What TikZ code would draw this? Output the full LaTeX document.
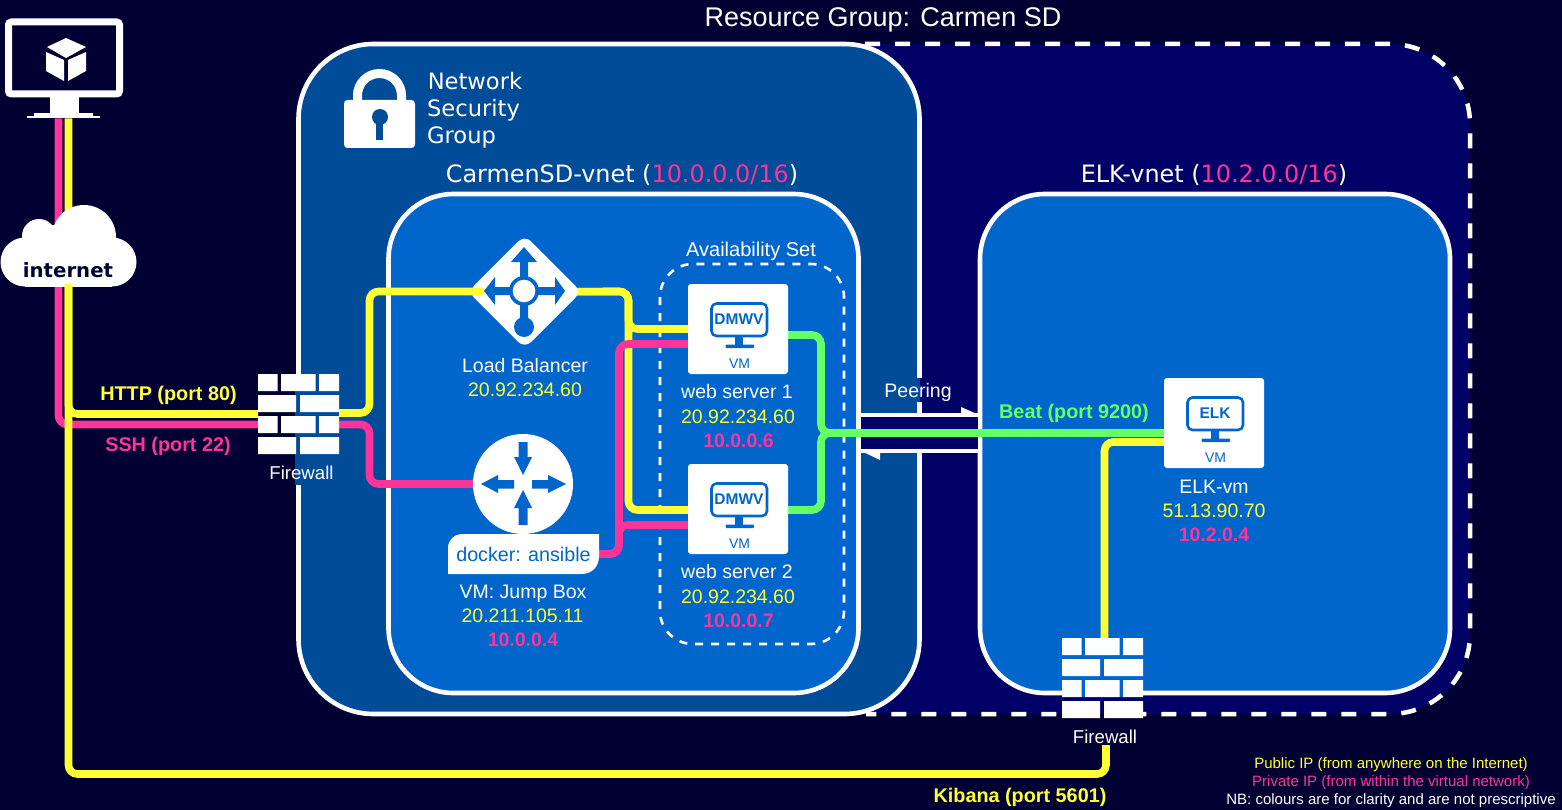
\documentclass[tikz,border=0pt]{standalone}
\usepackage{fontspec}
\setmainfont{Liberation Sans}
\newfontfamily\djv{DejaVu Sans}
\definecolor{bgc}{HTML}{000033}
\definecolor{rgc}{HTML}{000066}
\definecolor{nsgc}{HTML}{004C99}
\definecolor{vnc}{HTML}{0066CC}
\definecolor{ipy}{HTML}{FFFF33}
\definecolor{ipp}{HTML}{FF3399}
\definecolor{ipg}{HTML}{66FF66}
\newcommand\fs[1]{\fontsize{#1}{#1}\selectfont}
\tikzset{
  x=1pt,y=-1pt,
  txt/.style={anchor=base,inner sep=0pt,outer sep=0pt,text=white,font=\fs{19.5}},
  pub/.style={txt,text=ipy},
  priv/.style={txt,text=ipp,font=\fs{19.5}\bfseries},
  blab/.style={txt,font=\fs{19.8}\bfseries},
  legend/.style={txt,font=\fs{15}},
  ttl/.style={txt,font=\fs{22.6}\djv},
  ttlb/.style={txt,font=\fs{23.9}\djv},
  region/.style={draw=white,line width=4.6pt,outer sep=0pt,inner sep=0pt,rounded corners=#1},
  ghost/.style={inner sep=0pt,outer sep=0pt},
  vmbox/.style={fill=white,rounded corners=3pt,minimum width=100pt,minimum height=90pt,inner sep=0pt,outer sep=0pt},
  wire/.style={line width=7.6pt,rounded corners=9pt},
  yw/.style={wire,draw=ipy},
  pw/.style={wire,draw=ipp},
  gw/.style={wire,draw=ipg},
}
% firewall bricks; #1,#2 = top left corner
\newcommand\bricks[2]{%
  \begin{scope}[shift={(#1,#2)}]
    \fill[white] (0,0) rectangle (19.5,17) (23,0) rectangle (57.5,17) (61,0) rectangle (81,17);
    \fill[white] (0,21) rectangle (38,38) (42,21) rectangle (81,38);
    \fill[white] (0,42) rectangle (19.5,59) (23,42) rectangle (57.5,59) (61,42) rectangle (81,59);
    \fill[white] (0,63) rectangle (38,80) (42,63) rectangle (81,80);
  \end{scope}}
% VM icon; #1,#2 = top left of box, #3 = node prefix, #4 = screen text
\newcommand\vmicon[4]{%
  \begin{scope}[shift={(#1,#2)}]
    \draw[vnc,line width=2.6pt,rounded corners=5pt] (23.5,19.5) rectangle (79,52);
    \fill[vnc] (47,53) rectangle (55,62);
    \fill[vnc,rounded corners=1pt] (37.5,60.5) rectangle (66,64);
    \node[txt,text=vnc,font=\fs{15.5}\bfseries] (#3s) at (51,40) {#4};
    \node[txt,text=vnc,font=\fs{14}] (#3v) at (51.5,84) {VM};
  \end{scope}}
\begin{document}
\begin{tikzpicture}[line join=miter]
\useasboundingbox (0,0) rectangle (1562,810);
\fill[bgc] (0,0) rectangle (1562,810);
% resource group
\fill[rgc,rounded corners=80pt] (700,44) -- (1470,44) -- (1470,714) -- (700,714) -- cycle;
\draw[white,line width=4.5pt,dash pattern=on 15pt off 15pt,rounded corners=80pt] (865,44) -- (1470,44) -- (1470,714) -- (866,714);
\node[txt,font=\fs{27}] (rgt) at (883,27) {Resource Group: Carmen SD};
% regions
\node[region=75pt,fill=nsgc,minimum width=621pt,minimum height=670pt] (nsg) at (609,379) {};
\node[region=65pt,fill=vnc,minimum width=470pt,minimum height=499pt] (vnA) at (623.5,443.5) {};
\node[region=65pt,fill=vnc,minimum width=470pt,minimum height=499pt] (vnB) at (1215,443.5) {};
% lock
\fill[white,rounded corners=3.5pt] (344,100) rectangle (415,148);
\draw[white,line width=9pt] (357.5,102) -- (357.5,95.5) arc[start angle=180,end angle=0,radius=22pt] -- (401.5,102);
\fill[nsgc] (380,117) circle (8pt);
\fill[nsgc] (376.2,117) rectangle (383.2,140.5);
\node[ttl] (nsgA) at (475,90) {Network};
\node[ttl] (nsgB) at (473.5,117) {Security};
\node[ttl] (nsgC) at (461.5,144) {Group};
\node[ttlb] (vnAt) at (622,183) {CarmenSD-vnet (\textcolor{ipp}{10.0.0.0/16})};
\node[ttlb] (vnBt) at (1214,183) {ELK-vnet (\textcolor{ipp}{10.2.0.0/16})};
% availability set
\draw[white,line width=2.6pt,dash pattern=on 8pt off 8pt,rounded corners=33pt] (660,264) rectangle (844,644);
\node[txt,font=\fs{20}] (avt) at (751,256) {Availability Set};
% peering
\fill[rgc] (861,417) rectangle (978,449);
\fill[nsgc] (913,378) rectangle (919.5,402);
\fill[rgc] (919.5,378) rectangle (923,402);
\draw[white,line width=4pt] (vnA.east |- 0,415) -- (vnB.west |- 0,415);
\draw[white,line width=4pt] (vnB.west |- 0,450.5) -- (vnA.east |- 0,450.5);
\fill[white] (961,407) -- (977,414) -- (961,415) -- cycle;
\fill[white] (861,451) -- (880,460) -- (880,451) -- cycle;
\node[txt] (peer) at (918,397) {Peering};
% backing patches behind the firewalls and their labels
\fill[bgc] (290,374) rectangle (295,485);
\fill[nsgc] (295,374) rectangle (302,485);
\fill[vnc] (1062,690) rectangle (1143,697);
\fill[rgc] (1062,711) rectangle (1143,714);
\fill[bgc] (1062,714) rectangle (1143,718);
% anchors for connectors
\node[ghost,minimum width=73pt,minimum height=21.5pt] (stand) at (63.5,107.75) {};
\node[ghost,minimum width=81pt,minimum height=80pt] (fwA) at (298.5,414) {};
\node[ghost,minimum width=81pt,minimum height=80pt] (fwB) at (1102.5,678) {};
\node[ghost,minimum width=106pt,minimum height=106pt] (lb) at (524.7,291.7) {};
\node[ghost,minimum width=100pt,minimum height=90pt] (web1) at (738,329) {};
\node[ghost,minimum width=100pt,minimum height=90pt] (web2) at (738,509) {};
\node[ghost,minimum width=100pt,minimum height=90pt] (elk) at (1214,423) {};
\node[ghost,minimum width=151pt,minimum height=40pt] (docker) at (523.5,554) {};
\coordinate (kibS) at (68.5,284);
\coordinate (kibE) at (1106,745);
% wires from the monitor
\draw[pw] (stand.south -| 58.5,0) -- (58.5,424.5) -- (fwA.west |- 0,424.5);
\draw[yw] (stand.south -| 68.5,0) -- (68.5,414) -- (fwA.west |- 0,414);
% cloud
\fill[white] (25,262) circle (24.5pt) (112,262) circle (24.5pt) (84,237) circle (32pt) (39,236) circle (17pt);
\fill[white] (25,245) rectangle (112,286.5);
\fill[white] (39,225) rectangle (90,250);
\node[txt,text=bgc,font=\fs{19.7}\djv\bfseries] (cloud) at (68,277.5) {internet};
\draw[yw] (kibS) -- (68.5,774) -- (1106,774) -- (kibE);
% connectors
\draw[yw] (lb.center) -- (628.5,291.5) -- (628.5,329) -- (web1.west |- 0,329);
\draw[yw] (lb.center) -- (628.5,291.5) -- (628.5,510) -- (web2.west |- 0,510);
% load balancer body (above its outgoing wire, below its incoming one)
\fill[white,rounded corners=9pt] (524.7,235) -- (581.4,291.7) -- (524.7,348.4) -- (468,291.7) -- cycle;
\draw[yw] (fwA.east |- 0,413) -- (369.5,413) -- (369.5,291.5) -- ([xshift=12pt]lb.west |- 0,291.5);
\draw[pw] (fwA.east |- 0,424.5) -- (369.5,424.5) -- (369.5,484) -- (525,484);
\draw[pw] (docker.east |- 0,554) -- (619,554) -- (619,344) -- (web1.west |- 0,344);
\draw[pw] (docker.east |- 0,554) -- (619,554) -- (619,525) -- (web2.west |- 0,525);
\draw[gw] (web1.east |- 0,335) -- (821,335) -- (821,433) -- (elk.west |- 0,433);
\draw[gw] (web2.east |- 0,510) -- (821,510) -- (821,433) -- (elk.west |- 0,433);
\draw[yw] (fwB.north -| 1104.5,0) -- (1104.5,442) -- (elk.west |- 0,442);
% monitor
\node[draw=white,line width=7pt,rounded corners=3pt,minimum width=111pt,minimum height=72pt,inner sep=0pt,outer sep=0pt] (monitor) at (64,58) {};
\fill[white] (49.5,97) rectangle (78.5,114);
\fill[white] (34,113) rectangle (93,117);
\fill[white] (27,116) rectangle (100,118.5);
\fill[white] (66,38) -- (86,47) -- (66,58) -- (47,47) -- cycle;
\fill[white] (46,52) -- (64,60) -- (64,81) -- (46,71) -- cycle;
\fill[white] (86,52) -- (68,60) -- (68,81) -- (86,71) -- cycle;
% firewalls
\bricks{258}{374}
\bricks{1062}{638}
\node[txt,font=\fs{18.6}] (fwAt) at (301.5,479) {Firewall};
\node[txt,font=\fs{18.6}] (fwBt) at (1105,743) {Firewall};
% load balancer arrows
\begin{scope}[vnc]
  \fill (520,262) rectangle (528,280) (520,300) rectangle (528,320);
  \fill (495,287) rectangle (510,295) (538,287) rectangle (555,295);
  \fill (524,247) -- (537,262) -- (511,262) -- cycle;
  \fill (484,291) -- (495,277) -- (495,305) -- cycle;
  \fill (565,291) -- (555,277) -- (555,305) -- cycle;
  \fill (524,327) circle (10pt);
  \fill (524,291) circle (15pt);
\end{scope}
\fill[white] (524,291) circle (11.3pt);
% router
\node[circle,fill=white,minimum size=100pt,inner sep=0pt,outer sep=0pt] (router) at (523,484) {};
\begin{scope}[vnc]
  \fill (518.5,442) rectangle (527.5,458) (518.5,508) rectangle (527.5,525);
  \fill (498,480) rectangle (514,488.5) (532,480) rectangle (548,488.5);
  \fill (523,475) -- (532,457) -- (514,457) -- cycle;
  \fill (523,490) -- (532,508) -- (514,508) -- cycle;
  \fill (481,484) -- (498,475) -- (498,493) -- cycle;
  \fill (566,484) -- (548,475) -- (548,493) -- cycle;
\end{scope}
% docker label
\fill[white] (448,574) -- (448,548) .. controls (448,540) and (454,534) .. (463,534) -- (599,534) -- (599,556) .. controls (599,567) and (592,574) .. (581,574) -- cycle;
\node[txt,text=vnc,font=\fs{19.7}] (dockt) at (523.5,561) {docker: ansible};
% VM boxes
\node[vmbox] (web1box) at (web1) {};
\node[vmbox] (web2box) at (web2) {};
\node[vmbox] (elkbox) at (elk) {};
\vmicon{688}{284}{wa}{DMWV}
\vmicon{688}{464}{wb}{DMWV}
\vmicon{1164}{378}{wc}{ELK}
% labels
\node[blab,text=ipy] (http) at (168.5,400) {HTTP (port 80)};
\node[blab,text=ipp] (ssh) at (168,451) {SSH (port 22)};
\node[blab,text=ipy] (kib) at (1020,802) {Kibana (port 5601)};
\node[blab,text=ipg] (beat) at (1074,418.5) {Beat (port 9200)};
\node[txt] (lbA) at (525,372) {Load Balancer};
\node[pub] (lbB) at (525,396) {20.92.234.60};
\node[txt] (jbA) at (523,598) {VM: Jump Box};
\node[pub] (jbB) at (522.5,622) {20.211.105.11};
\node[priv] (jbC) at (523,646) {10.0.0.4};
\node[txt] (waA) at (737,398) {web server 1};
\node[pub] (waB) at (738,423) {20.92.234.60};
\node[priv] (waC) at (738.5,447) {10.0.0.6};
\node[txt] (wbA) at (737,578) {web server 2};
\node[pub] (wbB) at (738,603) {20.92.234.60};
\node[priv] (wbC) at (738.5,627) {10.0.0.7};
\node[txt] (ekA) at (1214,493) {ELK-vm};
\node[pub] (ekB) at (1214,517) {51.13.90.70};
\node[priv] (ekC) at (1214,541) {10.2.0.4};
\node[legend,text=ipy] (lgA) at (1391,768) {Public IP (from anywhere on the Internet)};
\node[legend,text=ipp] (lgB) at (1391,786) {Private IP (from within the virtual network)};
\node[legend] (lgC) at (1391,804) {NB: colours are for clarity and are not prescriptive};
\end{tikzpicture}
\end{document}
